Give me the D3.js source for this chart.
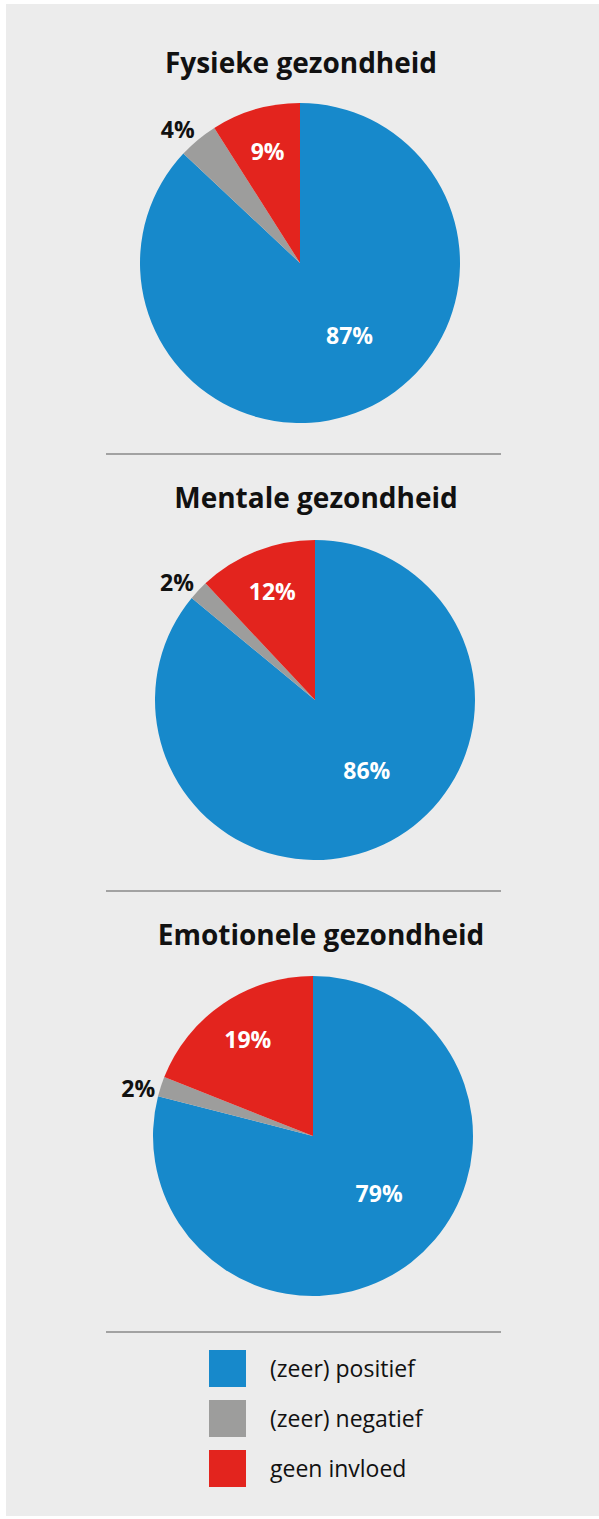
<!DOCTYPE html>
<html>
<head>
<meta charset="utf-8">
<script src="https://cdn.jsdelivr.net/npm/d3@7"></script>
<style>
  html, body { margin: 0; padding: 0; background: #fff; }
  svg { display: block; }
  text { font-family: 'Open Sans', 'Noto Sans', sans-serif; }
</style>
</head>
<body>
<svg id="chart" width="599" height="1519"></svg>
<script>
// data
const categories = ["(zeer) positief", "(zeer) negatief", "geen invloed"]
const titles = ["Fysieke gezondheid", "Mentale gezondheid", "Emotionele gezondheid"]
const positief = [87, 86, 79]
const negatief = [4, 2, 2]
const geenInvloed = [9, 12, 19]

const color = d3.scaleOrdinal()
  .domain(categories)
  .range(["#1789cb", "#9d9d9c", "#e3241e"])

// layout of the three pies (centre, title)
const pies = [
  { cx: 300, cy: 263, titleX: 301, titleY: 73, lineY: 454 },
  { cx: 315, cy: 700, titleX: 316, titleY: 508, lineY: 891 },
  { cx: 313, cy: 1136, titleX: 321, titleY: 945, lineY: 1332 }
]
const radius = 160

// label radius / angle nudge per category
const labelStyle = {
  "(zeer) positief": { r: 88, shift: -0.19, fill: "#fff" },
  "(zeer) negatief": { r: 181, shift: -0.05, fill: "#111" },
  "geen invloed": { r: 116, shift: 0, fill: "#fff" }
}

const svg = d3.select("#chart")

svg.append("rect")
  .attr("x", 6).attr("y", 4)
  .attr("width", 593).attr("height", 1512)
  .attr("fill", "#ececec")

const pie = d3.pie()
  .sort(null)
  .value(d => d.value)
  .startAngle(0)
  .endAngle(2 * Math.PI)

const arc = d3.arc().innerRadius(0).outerRadius(radius)

pies.forEach((p, i) => {
  const rows = [
    { cat: categories[0], value: positief[i] },
    { cat: categories[1], value: negatief[i] },
    { cat: categories[2], value: geenInvloed[i] }
  ]

  svg.append("text")
    .attr("x", p.titleX)
    .attr("y", p.titleY)
    .attr("text-anchor", "middle")
    .style("font-size", "28px")
    .style("font-weight", "700")
    .attr("fill", "#111")
    .text(titles[i])

  const g = svg.append("g")
    .attr("transform", `translate(${p.cx},${p.cy})`)

  const slices = pie(rows)

  g.selectAll("path")
    .data(slices)
    .join("path")
    .attr("d", arc)
    .attr("fill", d => color(d.data.cat))

  g.selectAll("text")
    .data(slices)
    .join("text")
    .attr("transform", d => {
      const st = labelStyle[d.data.cat]
      const a = (d.startAngle + d.endAngle) / 2 + st.shift
      return `translate(${st.r * Math.sin(a)},${-st.r * Math.cos(a)})`
    })
    .attr("dy", "0.36em")
    .attr("text-anchor", "middle")
    .style("font-size", "23px")
    .style("font-weight", "700")
    .attr("fill", d => labelStyle[d.data.cat].fill)
    .text(d => d.data.value + "%")

  svg.append("line")
    .attr("x1", 106).attr("x2", 501)
    .attr("y1", p.lineY).attr("y2", p.lineY)
    .attr("stroke", "#8a8a8a")
    .attr("stroke-width", 1.5)
})

// legend
const legend = svg.append("g")
  .selectAll("g")
  .data(categories)
  .join("g")
  .attr("transform", (d, i) => `translate(209,${1350 + i * 50})`)

legend.append("rect")
  .attr("width", 37)
  .attr("height", 37)
  .attr("fill", d => color(d))

legend.append("text")
  .attr("x", 61)
  .attr("y", 27)
  .style("font-size", "23px")
  .attr("fill", "#111")
  .text(d => d)
</script>
</body>
</html>
